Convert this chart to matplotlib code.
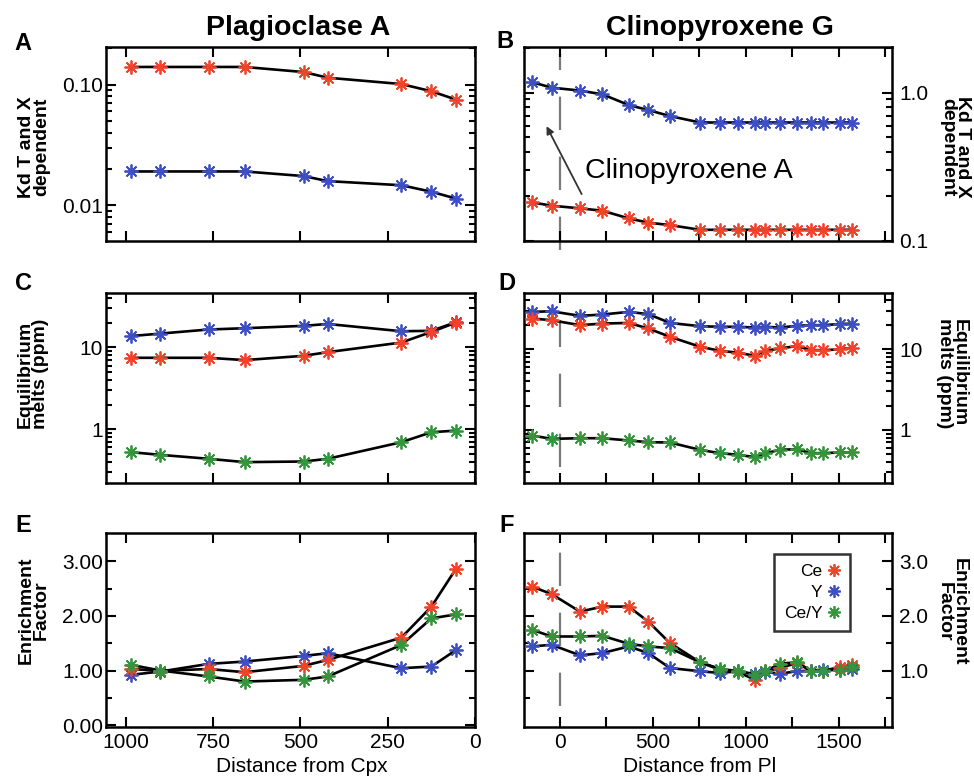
import numpy as np
import matplotlib
matplotlib.use("Agg")
import matplotlib.pyplot as plt
from matplotlib.ticker import LogLocator, NullFormatter, FixedLocator

plt.rcParams['font.family'] = ['Liberation Sans', 'DejaVu Sans']

# ---------------- data ----------------
x_pl = [985, 901, 763, 660, 491, 422, 211, 125, 54]
x_cpx = [-148, -45, 108, 229, 370, 475, 592, 754, 859, 960, 1047, 1105, 1184,
         1273, 1350, 1413, 1504, 1570]

# A: Kd plagioclase
kd_ce_pl = [0.140, 0.140, 0.140, 0.140, 0.127, 0.114, 0.101, 0.088, 0.075]
kd_y_pl = [0.0190, 0.0190, 0.0190, 0.0190, 0.0174, 0.0158, 0.0146, 0.0129, 0.0113]

# B: Kd clinopyroxene
kd_y_cpx = [1.175, 1.081, 1.032, 0.974, 0.825, 0.763, 0.695, 0.629, 0.629, 0.629,
            0.629, 0.629, 0.629, 0.629, 0.629, 0.629, 0.629, 0.629]
kd_ce_cpx = [0.182, 0.173, 0.166, 0.160, 0.142, 0.133, 0.128, 0.119, 0.119, 0.119,
             0.119, 0.119, 0.119, 0.119, 0.119, 0.119, 0.119, 0.119]

# C: equilibrium melts, plagioclase
melt_ce_pl = [7.48, 7.48, 7.48, 7.01, 7.91, 8.77, 11.5, 15.5, 20.2]
melt_y_pl = [13.8, 14.8, 16.6, 17.2, 18.4, 19.4, 15.8, 16.0, 20.4]
melt_cey_pl = [0.524, 0.486, 0.435, 0.396, 0.403, 0.435, 0.694, 0.919, 0.963]

# D: equilibrium melts, clinopyroxene
melt_y_cpx = [28.9, 29.4, 25.8, 26.8, 28.9, 27.1, 21.1, 19.2, 18.9, 18.9, 18.5,
              18.9, 18.5, 19.4, 19.8, 19.8, 20.4, 20.7]
melt_ce_cpx = [23.9, 22.8, 19.8, 20.7, 21.1, 18.0, 14.2, 10.7, 9.54, 9.01, 8.28,
               9.54, 10.2, 10.9, 9.72, 9.72, 9.9, 10.4]
melt_cey_cpx = [0.851, 0.774, 0.789, 0.789, 0.739, 0.704, 0.698, 0.566, 0.515,
                0.491, 0.460, 0.515, 0.566, 0.577, 0.515, 0.515, 0.525, 0.525]

# E: enrichment factor, plagioclase
ef_ce_pl = [1.03, 0.996, 1.03, 0.971, 1.087, 1.196, 1.603, 2.168, 2.866]
ef_y_pl = [0.923, 0.984, 1.123, 1.166, 1.269, 1.318, 1.044, 1.075, 1.378]
ef_cey_pl = [1.105, 1.002, 0.893, 0.801, 0.832, 0.893, 1.469, 1.955, 2.028]

# F: enrichment factor, clinopyroxene
ef_ce_cpx = [2.533, 2.40, 2.079, 2.170, 2.170, 1.897, 1.503, 1.152, 1.018, 0.970,
             0.836, 0.988, 1.048, 1.139, 1.0, 1.0, 1.06, 1.109]
ef_y_cpx = [1.442, 1.473, 1.279, 1.321, 1.442, 1.321, 1.048, 0.988, 0.958, 0.988,
            0.939, 0.976, 0.945, 0.988, 1.0, 1.018, 1.018, 1.036]
ef_cey_cpx = [1.745, 1.624, 1.624, 1.636, 1.491, 1.442, 1.412, 1.152, 1.036, 0.988,
              0.927, 0.988, 1.127, 1.152, 1.0, 1.0, 1.018, 1.061]

series_names = ['Ce', 'Y', 'Ce/Y']
titles = ['Plagioclase A', 'Clinopyroxene G']
panel_letters = ['A', 'B', 'C', 'D', 'E', 'F']

# ---------------- style ----------------
RED = '#f0432a'
BLUE = '#3d4fc2'
GREEN = '#35953d'
STAR = (8, 2, 0)
W, H = 974, 777

fig = plt.figure(figsize=(W / 100, H / 100), dpi=100)


def ax_at(l, t, r, b):
    return fig.add_axes([l / W, 1 - b / H, (r - l) / W, (b - t) / H])


def fx(p):
    return p / W


def fy(p):
    return 1 - p / H


def series(ax, x, y, color, label=None):
    ax.plot(x, y, '-', color='black', lw=1.9, zorder=2)
    ax.plot(x, y, linestyle='none', marker=STAR, ms=10, mew=1.3,
            color=color, zorder=3, label=label)


def style(ax, right=False):
    for s in ax.spines.values():
        s.set_linewidth(1.8)
    ax.tick_params(which='both', direction='in', top=True, bottom=True,
                   left=True, right=True, labelsize=15, width=1.5, pad=3)
    ax.tick_params(which='major', length=7)
    ax.tick_params(which='minor', length=4)
    if right:
        ax.tick_params(axis='y', which='both', labelleft=False, labelright=True, pad=5)
    else:
        ax.tick_params(axis='y', which='both', pad=2)


def log_minor(ax):
    ax.yaxis.set_minor_locator(LogLocator(base=10, subs=np.arange(2, 10)))
    ax.yaxis.set_minor_formatter(NullFormatter())


L0, L1 = 106, 475
R0, R1 = 524, 892
rows = [(47, 241), (293, 483), (533, 727)]

axA = ax_at(L0, rows[0][0], L1, rows[0][1])
axB = ax_at(R0, rows[0][0], R1, rows[0][1])
axC = ax_at(L0, rows[1][0], L1, rows[1][1])
axD = ax_at(R0, rows[1][0], R1, rows[1][1])
axE = ax_at(L0, rows[2][0], L1, rows[2][1])
axF = ax_at(R0, rows[2][0], R1, rows[2][1])

# ---- A ----
series(axA, x_pl, kd_ce_pl, RED)
series(axA, x_pl, kd_y_pl, BLUE)
axA.set_yscale('log')
axA.set_ylim(0.00503, 0.205)
axA.set_yticks([0.01, 0.1], ['0.01', '0.10'])
log_minor(axA)

# ---- B ----
series(axB, x_cpx, kd_y_cpx, BLUE)
series(axB, x_cpx, kd_ce_cpx, RED)
axB.set_yscale('log')
axB.set_ylim(0.1, 2.03)
axB.set_yticks([0.1, 1.0], ['0.1', '1.0'])
log_minor(axB)

# ---- C ----
series(axC, x_pl, melt_y_pl, BLUE)
series(axC, x_pl, melt_ce_pl, RED)
series(axC, x_pl, melt_cey_pl, GREEN)
axC.set_yscale('log')
axC.set_ylim(0.22, 46.4)
axC.set_yticks([1, 10], ['1', '10'])
log_minor(axC)

# ---- D ----
series(axD, x_cpx, melt_y_cpx, BLUE)
series(axD, x_cpx, melt_ce_cpx, RED)
series(axD, x_cpx, melt_cey_cpx, GREEN)
axD.set_yscale('log')
axD.set_ylim(0.22, 49.5)
axD.set_yticks([1, 10], ['1', '10'])
log_minor(axD)

# ---- E ----
series(axE, x_pl, ef_y_pl, BLUE)
series(axE, x_pl, ef_ce_pl, RED)
series(axE, x_pl, ef_cey_pl, GREEN)
axE.set_ylim(-0.03, 3.515)
axE.set_yticks([0, 1, 2, 3], ['0.00', '1.00', '2.00', '3.00'])
axE.yaxis.set_minor_locator(FixedLocator([0.5, 1.5, 2.5]))

# ---- F ----
series(axF, x_cpx, ef_ce_cpx, RED, label=series_names[0])
series(axF, x_cpx, ef_y_cpx, BLUE, label=series_names[1])
series(axF, x_cpx, ef_cey_cpx, GREEN, label=series_names[2])
axF.set_ylim(-0.03, 3.515)
axF.set_yticks([1, 2, 3], ['1.0', '2.0', '3.0'])
axF.yaxis.set_minor_locator(FixedLocator([0.5, 1.5, 2.5]))

# x axes
for ax in (axA, axC, axE):
    ax.set_xlim(1057, 0)
    ax.set_xticks([1000, 750, 500, 250, 0])
for ax in (axB, axD, axF):
    ax.set_xlim(-193, 1786)
    ax.set_xticks([0, 250, 500, 750, 1000, 1250, 1500, 1750])

for ax in (axA, axC, axB, axD):
    ax.tick_params(axis='x', labelbottom=False)

for ax in (axA, axC, axE):
    style(ax)
for ax in (axB, axD, axF):
    style(ax, right=True)

axE.set_xticklabels(['1000', '750', '500', '250', '0'])
axF.set_xticklabels(['0', '', '500', '', '1000', '', '1500', ''])
axE.tick_params(axis='x', pad=4)
axF.tick_params(axis='x', pad=4)

# dashed vertical lines at x=0
for ax, y0, y1 in ((axB, -0.046, 0.969), (axD, 0.084, 0.858), (axF, 0.109, 1.036)):
    ax.axvline(0, ymin=y0, ymax=y1, color='#7a7a7a', lw=1.6,
               linestyle=(0, (15, 12)), clip_on=False, zorder=1)

# annotation in B
axB.text(135, 0.2986, 'Clinopyroxene A', fontsize=20.5, ha='left', va='center')
axB.annotate('', xy=(-72, 0.594), xytext=(117, 0.207),
             arrowprops=dict(arrowstyle='-|>', color='#333333', lw=1.3,
                             mutation_scale=11, shrinkA=0, shrinkB=0))

# legend
leg = axF.legend(loc='upper left', bbox_to_anchor=(0.68, 0.89), markerfirst=False,
                 fontsize=12.5, frameon=True, fancybox=False, handlelength=0.8,
                 handletextpad=0.25, borderpad=0.55, labelspacing=0.35,
                 borderaxespad=0, markerscale=0.9)
leg.get_frame().set_edgecolor('black')
leg.get_frame().set_linewidth(1.8)

# titles
fig.text(fx(298), fy(35), titles[0], fontsize=20.5, fontweight='bold',
         ha='center', va='baseline')
fig.text(fx(720), fy(35), titles[1], fontsize=20.5, fontweight='bold',
         ha='center', va='baseline')

# panel letters
for letter, (px, py) in zip(panel_letters, [(23, 44), (505, 42), (24, 283),
                                            (507, 283), (23, 525), (507, 525)]):
    fig.text(fx(px), fy(py), letter, fontsize=17, fontweight='bold',
             ha='center', va='center')

# y labels
ylab_kw = dict(fontsize=14, fontweight='bold', ha='center', va='center',
               multialignment='center', linespacing=0.85)
fig.text(fx(34), fy(147), 'Kd T and X\ndependent', rotation=90, **ylab_kw)
fig.text(fx(955), fy(147), 'Kd T and X\ndependent', rotation=-90, **ylab_kw)
fig.text(fx(33), fy(374), 'Equilibrium\nmelts (ppm)', rotation=90, **ylab_kw)
fig.text(fx(952), fy(373), 'Equilibrium\nmelts (ppm)', rotation=-90, **ylab_kw)
fig.text(fx(34), fy(610), 'Enrichment\nFactor', rotation=90, **ylab_kw)
fig.text(fx(952), fy(612), 'Enrichment\nFactor', rotation=-90, **ylab_kw)

# x labels
fig.text(fx(302), fy(766), 'Distance from Cpx', fontsize=15, ha='center', va='center')
fig.text(fx(700), fy(766), 'Distance from Pl', fontsize=15, ha='center', va='center')

fig.savefig('out.png', dpi=100)
